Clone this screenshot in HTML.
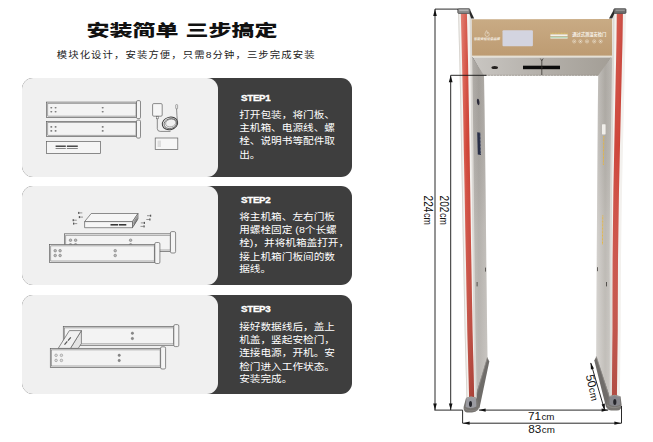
<!DOCTYPE html>
<html lang="zh-CN">
<head>
<meta charset="utf-8">
<title>安装简单 三步搞定</title>
<style>
html,body{margin:0;padding:0;background:#fff;}
body{width:653px;height:442px;position:relative;overflow:hidden;font-family:"Liberation Sans","Noto Sans CJK SC",sans-serif;}
#art{position:absolute;left:0;top:0;width:653px;height:442px;}
.title{position:absolute;left:0;top:13.7px;width:364px;text-align:center;font-size:16.3px;line-height:32px;font-weight:900;color:#111;white-space:nowrap;word-spacing:0.45px;transform:scaleX(1.412);transform-origin:50% 50%;font-family:"Liberation Sans","Noto Sans CJK SC",sans-serif;}
.sub{position:absolute;left:0;top:46px;width:372.4px;text-align:center;font-size:9px;line-height:18px;font-weight:400;color:#1c1c1c;white-space:nowrap;letter-spacing:0.96px;transform:scaleX(1.15);transform-origin:50% 50%;font-family:"Liberation Sans","Noto Sans CJK SC",sans-serif;}
.card{position:absolute;left:22.4px;width:330px;height:99.2px;border-radius:11px;background:#3e3e3e;}
.card .lt{position:absolute;left:0;top:0;width:196px;height:99.2px;border-radius:11px;background:#f0f0f0;}
.card h3{position:absolute;left:219.1px;top:14.4px;margin:0;font-size:9.1px;line-height:12px;font-weight:bold;color:#fff;letter-spacing:-0.25px;-webkit-text-stroke:0.35px #fff;transform:scaleX(1.07);transform-origin:0 50%;}
.card p{position:absolute;left:216.8px;top:30.5px;margin:0;font-size:10.65px;line-height:14.55px;transform:scaleY(0.9);transform-origin:0 0;color:#fff;white-space:nowrap;font-family:"Liberation Sans","Noto Sans CJK SC",sans-serif;}
#c1{top:77.5px}#c2{top:185.8px}#c3{top:295.2px}
#c2 h3{top:8px}#c2 p{top:24.2px}#c3 h3{top:7.95px}#c3 p{top:24.4px}
.dim{position:absolute;font-size:11px;line-height:11px;color:#111;white-space:nowrap;font-family:"Liberation Sans",sans-serif;}
</style>
</head>
<body>
<div class="title">安装简单 三步搞定</div>
<div class="sub">模块化设计，安装方便，只需8分钟，三步完成安装</div>

<div class="card" id="c1"><div class="lt"></div>
<h3>STEP1</h3>
<p>打开包装，将门板、<br>主机箱、电源线、螺<br>栓、说明书等配件取<br>出。</p></div>

<div class="card" id="c2"><div class="lt"></div>
<h3>STEP2</h3>
<p>将主机箱、左右门板<br>用螺栓固定 (8个长螺<br>栓)，并将机箱盖打开，<br>接上机箱门板间的数<br>据线。</p></div>

<div class="card" id="c3"><div class="lt"></div>
<h3>STEP3</h3>
<p>接好数据线后，盖上<br>机盖，竖起安检门，<br>连接电源，开机。安<br>检门进入工作状态。<br>安装完成。</p></div>

<svg id="art" width="653" height="442" viewBox="0 0 653 442">
<g id="step1" fill="none" stroke="#5e5e5e" stroke-width="0.7">
  <!-- panel 1 -->
  <rect x="46.5" y="102.1" width="90.3" height="15.3" fill="#f3f3f3"/>
  <rect x="47.8" y="103.4" width="88.2" height="12.7" stroke-width="0.5"/>
  <rect x="136.5" y="100.6" width="4" height="18" rx="1.3" fill="#f4f4f4"/>
  <g fill="#777" stroke="none"><ellipse cx="51.3" cy="107.7" rx="1.05" ry="0.8"/><ellipse cx="51.3" cy="111.8" rx="1.05" ry="0.8"/><ellipse cx="55.6" cy="107.7" rx="1.05" ry="0.8"/><ellipse cx="55.6" cy="111.8" rx="1.05" ry="0.8"/><ellipse cx="102.7" cy="107.7" rx="1.05" ry="0.8"/><ellipse cx="102.7" cy="111.8" rx="1.05" ry="0.8"/></g>
  <!-- panel 2 -->
  <rect x="46.5" y="121.4" width="90.3" height="15.1" fill="#f3f3f3"/>
  <rect x="47.8" y="122.7" width="88.2" height="12.5" stroke-width="0.5"/>
  <rect x="136.5" y="120.1" width="4" height="18" rx="1.3" fill="#f4f4f4"/>
  <g fill="#777" stroke="none"><ellipse cx="51.3" cy="126.9" rx="1.05" ry="0.8"/><ellipse cx="51.3" cy="130.9" rx="1.05" ry="0.8"/><ellipse cx="55.6" cy="126.9" rx="1.05" ry="0.8"/><ellipse cx="55.6" cy="130.9" rx="1.05" ry="0.8"/><ellipse cx="102.7" cy="126.9" rx="1.05" ry="0.8"/><ellipse cx="102.7" cy="130.9" rx="1.05" ry="0.8"/></g>
  <!-- main box -->
  <rect x="46.5" y="141.5" width="54.1" height="11.9" fill="#f5f5f5"/>
  <g stroke="#2e2e2e" stroke-width="1.3">
    <line x1="55.6" y1="146.2" x2="65.8" y2="146.2"/><line x1="66.9" y1="146.2" x2="77.8" y2="146.2"/>
  </g>
  <g stroke="#555" stroke-width="0.7">
    <line x1="55.6" y1="148.5" x2="65.8" y2="148.5"/><line x1="66.9" y1="148.5" x2="77.8" y2="148.5"/>
  </g>
  <!-- adapter + cable -->
  <rect x="152.6" y="103.6" width="9.6" height="12.6" rx="1.2" fill="#f6f6f6"/>
  <rect x="156.4" y="116.2" width="2" height="2.6" stroke-width="0.5"/>
  <path d="M157.3 118.8 V128.6 Q157.3 131.4 160.2 131.4 H170.5"/>
  <g transform="rotate(-14 170 123.4)">
  <ellipse cx="170" cy="123.4" rx="7.8" ry="6.2" stroke="#3c3c3c" stroke-width="1"/>
  <ellipse cx="170.3" cy="123.7" rx="6.4" ry="4.9" stroke="#4a4a4a" stroke-width="0.7"/>
  <ellipse cx="170.8" cy="123.2" rx="5.2" ry="3.8" stroke="#666" stroke-width="0.5"/>
  </g>
  <path d="M177.4 121.6 Q176.9 116 176.6 108.8"/>
  <rect x="175.7" y="104.6" width="1.9" height="4.2" rx="0.6" stroke-width="0.5"/>
  <!-- manual -->
  <rect x="155.2" y="138" width="22.6" height="11.6" fill="#f6f6f6"/>
  <rect x="157.6" y="140.6" width="3.4" height="6.4" fill="#ddd" stroke="none"/>
</g>

<g id="step2" class="s2" fill="none" stroke="#5e5e5e" stroke-width="0.7">
  <!-- back panel -->
  <rect x="64.4" y="233.8" width="106.4" height="17.6" fill="#f3f3f3"/>
  <rect x="65.8" y="235.2" width="104.4" height="14.8" stroke-width="0.5"/>
  <rect x="170.4" y="231.6" width="5.2" height="21.4" rx="1.4" fill="#f4f4f4"/>
  <g fill="#b9b9b9" stroke="#707070" stroke-width="0.55">
    <circle cx="70.5" cy="240.2" r="1.3"/><circle cx="75.6" cy="240.2" r="1.3"/><circle cx="130.6" cy="240.2" r="1.3"/><circle cx="70.5" cy="244.8" r="1.3"/><circle cx="75.6" cy="244.8" r="1.3"/><circle cx="130.6" cy="244.8" r="1.3"/>
  </g>
  <!-- front panel -->
  <rect x="49.4" y="244.5" width="105.4" height="17.9" fill="#f3f3f3"/>
  <rect x="50.8" y="245.9" width="103.4" height="15.1" stroke-width="0.5"/>
  <rect x="154.8" y="242.5" width="5.1" height="21" rx="1.4" fill="#f4f4f4"/>
  <g fill="#b9b9b9" stroke="#707070" stroke-width="0.55">
    <circle cx="55.2" cy="250.7" r="1.3"/><circle cx="60.1" cy="250.7" r="1.3"/>
    <circle cx="55.2" cy="255.5" r="1.3"/><circle cx="60.1" cy="255.5" r="1.3"/>
    <circle cx="115.2" cy="250.7" r="1.3"/><circle cx="115.2" cy="255.5" r="1.3"/>
  </g>
  <!-- main box 3d -->
  <path d="M84.6 221.6 L91.2 213.5 L138 213.5 L132.5 221.6 Z" fill="#f6f6f6"/>
  <path d="M84.6 221.6 H132.5 V227.7 H84.6 Z" fill="#f6f6f6"/>
  <path d="M132.5 221.6 L138 213.5 V218.8 L132.5 227.7 Z" fill="#cfcfcf"/>
  <g stroke="#2e2e2e" stroke-width="1.5"><line x1="110.5" y1="224.8" x2="118" y2="224.8"/><line x1="118.8" y1="224.8" x2="126.3" y2="224.8"/></g>
  <g stroke="#444" stroke-width="0.5">
    <path d="M133.4 222.6 L137.4 216.6 M133.4 224.2 L137.4 218.2 M133.4 225.8 L137.4 219.6"/>
  </g>
  <!-- screws -->
  <g stroke="#555" stroke-width="0.6">
<rect x="78.1" y="211.9" width="1.3" height="2" fill="#555" stroke="none"/><line x1="79.4" y1="212.9" x2="82.3" y2="212.9"/><rect x="78.8" y="216.1" width="1.3" height="2" fill="#555" stroke="none"/><line x1="80.1" y1="217.1" x2="83.0" y2="217.1"/><rect x="72.6" y="219.2" width="1.3" height="2" fill="#555" stroke="none"/><line x1="73.9" y1="220.2" x2="76.8" y2="220.2"/><rect x="73.0" y="222.6" width="1.3" height="2" fill="#555" stroke="none"/><line x1="74.3" y1="223.6" x2="77.2" y2="223.6"/><rect x="149.9" y="214.7" width="1.3" height="2" fill="#555" stroke="none"/><line x1="147.0" y1="215.7" x2="149.9" y2="215.7"/><rect x="149.2" y="218.5" width="1.3" height="2" fill="#555" stroke="none"/><line x1="146.3" y1="219.5" x2="149.2" y2="219.5"/><rect x="143.7" y="221.9" width="1.3" height="2" fill="#555" stroke="none"/><line x1="140.8" y1="222.9" x2="143.7" y2="222.9"/><rect x="143.4" y="225.4" width="1.3" height="2" fill="#555" stroke="none"/><line x1="140.5" y1="226.4" x2="143.4" y2="226.4"/>
  </g>
</g>

<g id="step3" fill="none" stroke="#5e5e5e" stroke-width="0.7">
  <!-- back panel -->
  <rect x="63.3" y="326.5" width="110.8" height="18.8" fill="#f3f3f3"/>
  <rect x="64.7" y="327.9" width="108.6" height="16" stroke-width="0.5"/>
  <rect x="173.8" y="324.6" width="5" height="22" rx="1.4" fill="#f4f4f4"/>
  <g fill="#8a8a8a" stroke="#666" stroke-width="0.4"><circle cx="132.4" cy="333.2" r="1.2"/><circle cx="132.4" cy="338.5" r="1.2"/></g>
  <!-- connector box -->
  <path d="M81.4 330.6 V343.5 L78.2 348.4 H70.4 Z" fill="#e4e4e4"/>
  <path d="M58.2 348.4 L69.4 330.6 L81.4 330.6 L70.4 348.4 Z" fill="#f1f1f1"/>
  <g stroke="#555" stroke-width="1.2"><path d="M64.5 344.7 L67.3 341.4 M68 340.6 L70.8 337.4"/></g>
  <!-- front panel -->
  <rect x="50.3" y="348.5" width="110.6" height="18.9" fill="#f3f3f3"/>
  <rect x="51.7" y="349.9" width="108.4" height="16.1" stroke-width="0.5"/>
  <rect x="160.6" y="346.8" width="5" height="22.2" rx="1.4" fill="#f4f4f4"/>
  <g fill="#dcdcdc" stroke="#808080" stroke-width="0.5">
    <circle cx="56.1" cy="355.3" r="1.3"/><circle cx="61.4" cy="355.3" r="1.3"/>
    <circle cx="56.1" cy="360.4" r="1.3"/><circle cx="61.4" cy="360.4" r="1.3"/>
  </g>
  <g fill="#8a8a8a" stroke="#666" stroke-width="0.4"><circle cx="119.2" cy="355.3" r="1.2"/><circle cx="119.2" cy="360.5" r="1.2"/></g>
</g>

<defs>
<linearGradient id="gRedL" x1="0" x2="1" y1="0" y2="0"><stop offset="0" stop-color="#df7264"/><stop offset="0.45" stop-color="#d1483a"/><stop offset="1" stop-color="#c0362a"/></linearGradient>
<linearGradient id="gRedR" x1="0" x2="1" y1="0" y2="0"><stop offset="0" stop-color="#cb4a40"/><stop offset="0.6" stop-color="#cf463a"/><stop offset="1" stop-color="#c2382e"/></linearGradient>
<linearGradient id="gRedV" x1="0" x2="0" y1="0" y2="1"><stop offset="0" stop-color="#fff" stop-opacity="0.10"/><stop offset="0.35" stop-color="#fff" stop-opacity="0"/><stop offset="1" stop-color="#7a5550" stop-opacity="0.34"/></linearGradient>
<linearGradient id="gSideL" x1="0" x2="1" y1="0" y2="0"><stop offset="0" stop-color="#bdb9b4"/><stop offset="0.5" stop-color="#aaa6a1"/><stop offset="1" stop-color="#bcb8b3"/></linearGradient>
<linearGradient id="gSideR" x1="0" x2="1" y1="0" y2="0"><stop offset="0" stop-color="#cfccc8"/><stop offset="0.5" stop-color="#b4b0aa"/><stop offset="1" stop-color="#c6c3be"/></linearGradient>
<linearGradient id="gUnder" x1="0" x2="1" y1="0" y2="0"><stop offset="0" stop-color="#c9c6c2"/><stop offset="0.5" stop-color="#b4b0aa"/><stop offset="1" stop-color="#a39e96"/></linearGradient>
<linearGradient id="gTan" x1="0" x2="0" y1="0" y2="1"><stop offset="0" stop-color="#c9ab84"/><stop offset="1" stop-color="#bd9b72"/></linearGradient>
<linearGradient id="gSideV" x1="0" x2="0" y1="0" y2="1"><stop offset="0" stop-color="#000" stop-opacity="0.04"/><stop offset="0.5" stop-color="#fff" stop-opacity="0.12"/><stop offset="1" stop-color="#fff" stop-opacity="0.20"/></linearGradient>
</defs>
<g id="gate">
<polygon points="471.4,19.3 612.2,18.9 612.2,56 471.6,56" fill="url(#gTan)"/>
<rect x="471.6" y="55.6" width="140.6" height="1.8" fill="#e6e0d4"/>
<polygon points="472.2,57.4 611.2,57.4 600.4,75.4 482,75.4" fill="url(#gUnder)"/>
<line x1="482" y1="75.3" x2="600.4" y2="75.3" stroke="#857f76" stroke-width="0.6" stroke-dasharray="2.4 0.6"/>
<line x1="472.4" y1="57.4" x2="481.8" y2="74.4" stroke="#4a4642" stroke-width="0.8"/>
<line x1="611" y1="57.4" x2="600.6" y2="74.6" stroke="#8a857d" stroke-width="0.5"/>
<ellipse cx="494.7" cy="67.5" rx="3.3" ry="1.6" fill="#24211f"/>
<rect x="523" y="65.7" width="37" height="3.5" fill="#0c0c0c"/>
<path d="M541.8 60 V75 M540.4 58.6 L541.8 60.6 L543.2 58.6" stroke="#2a2724" stroke-width="0.7" fill="none"/>
<circle cx="541.8" cy="67.5" r="1" fill="#2a2724"/>
<rect x="502.5" y="30.3" width="30.4" height="15.9" rx="1" fill="#d3d4e0"/>
<path d="M486.6 30.6 c-0.9 1.3 -1.6 2.4 -1.6 3.8 a2.1 2.1 0 0 0 4.2 0 c0 -1 -0.6 -1.8 -1.2 -2.2 c0.1 0.8 -0.4 1.3 -0.9 1.3 c0.3 -1 0.1 -2 -0.5 -2.9z" fill="none" stroke="#f3ece0" stroke-width="0.5"/>
<text x="473.8" y="40.1" font-size="3.2" font-weight="bold" font-style="italic" fill="#f6f1e8" textLength="26" lengthAdjust="spacingAndGlyphs" font-family="'Liberation Sans','Noto Sans CJK SC',sans-serif">智能安检设备品牌</text>
<line x1="550.4" y1="33.3" x2="567.6" y2="33.3" stroke="#e6d35a" stroke-width="0.7" stroke-dasharray="1 0.5"/>
<rect x="550.4" y="34.4" width="17.2" height="1.7" fill="#f4f2ea"/>
<rect x="550.4" y="36.8" width="17.2" height="1.8" fill="#e9efe4"/>
<rect x="550.4" y="36.8" width="17.2" height="0.7" fill="#8fc79a"/>
<text x="572.2" y="35.7" font-size="4.3" font-weight="bold" fill="#f6f1e8" textLength="34" lengthAdjust="spacingAndGlyphs" font-family="'Liberation Sans','Noto Sans CJK SC',sans-serif">通过式测温安检门</text>
<circle cx="574.2" cy="41.4" r="1.6" fill="none" stroke="#f1eadd" stroke-width="0.5"/>
<circle cx="574.2" cy="41.4" r="0.6" fill="#f1eadd"/>
<circle cx="580.4" cy="41.4" r="1.6" fill="none" stroke="#f1eadd" stroke-width="0.5"/>
<circle cx="580.4" cy="41.4" r="0.6" fill="#f1eadd"/>
<circle cx="587" cy="41.4" r="1.6" fill="none" stroke="#f1eadd" stroke-width="0.5"/>
<circle cx="587" cy="41.4" r="0.6" fill="#f1eadd"/>
<circle cx="594.2" cy="41.4" r="1.6" fill="none" stroke="#f1eadd" stroke-width="0.5"/>
<circle cx="594.2" cy="41.4" r="0.6" fill="#f1eadd"/>
<circle cx="600.6" cy="41.4" r="1.6" fill="none" stroke="#f1eadd" stroke-width="0.5"/>
<circle cx="600.6" cy="41.4" r="0.6" fill="#f1eadd"/>
<polygon points="470.3,57.4 470.5,75.4 471.0,110.0 471.9,190.0 472.7,260.0 473.5,330.0 474.1,358.0 474.8,398.0 475.6,398.0 487.5,358.0 487.1,330.0 486.3,260.0 485.6,190.0 484.6,110.0 484.0,75.4 472.6,57.4" fill="url(#gSideL)"/>
<polygon points="470.3,57.4 470.5,75.4 471.0,110.0 471.9,190.0 472.7,260.0 473.5,330.0 474.1,358.0 474.8,398.0 475.6,398.0 487.5,358.0 487.1,330.0 486.3,260.0 485.6,190.0 484.6,110.0 484.0,75.4 472.6,57.4" fill="url(#gSideV)"/>
<path d="M487.4 357.5 L489.3 361.5 L479.4 408.6 L474.6 399 Z" fill="#6f6c69"/>
<path d="M487.4 357.5 L475.4 398.5" stroke="#8f8c88" stroke-width="0.8" fill="none"/>
<polygon points="458.1,13.5 458.8,40.0 459.3,60.0 459.7,77.0 460.4,110.0 461.1,150.0 461.9,190.0 462.6,230.0 463.2,260.0 464.0,300.0 464.6,330.0 465.4,360.0 466.0,380.0 466.4,398.0 475.1,398.0 474.8,380.0 474.4,360.0 473.8,330.0 473.4,300.0 472.9,260.0 472.6,230.0 472.2,190.0 471.8,150.0 471.3,110.0 470.9,77.0 470.6,60.0 470.3,40.0 469.8,13.5" fill="#f3f1ee"/>
<polygon points="469.5,13.5 470.0,40.0 470.3,60.0 470.6,77.0 471.0,110.0 471.5,150.0 471.9,190.0 472.3,230.0 472.7,260.0 473.1,300.0 473.5,330.0 474.1,360.0 474.5,380.0 474.8,398.0 476.7,398.0 476.4,380.0 476.0,360.0 475.4,330.0 475.0,300.0 474.6,260.0 474.2,230.0 473.8,190.0 473.4,150.0 472.9,110.0 472.5,77.0 472.2,60.0 471.9,40.0 471.4,13.5" fill="#dcd9d5"/>
<polygon points="458.1,13.5 458.8,40.0 459.3,60.0 459.7,77.0 460.4,110.0 461.1,150.0 461.9,190.0 462.6,230.0 463.2,260.0 464.0,300.0 464.6,330.0 465.4,360.0 466.0,380.0 466.4,398.0 467.4,398.0 467.0,380.0 466.4,360.0 465.6,330.0 465.0,300.0 464.2,260.0 463.6,230.0 462.9,190.0 462.1,150.0 461.4,110.0 460.7,77.0 460.3,60.0 459.8,40.0 459.1,13.5" fill="#d9d5d0"/>
<polygon points="460.8,13.5 461.5,40.0 462.0,60.0 462.4,77.0 463.1,110.0 463.8,150.0 464.6,190.0 465.3,230.0 465.9,260.0 466.7,300.0 467.3,330.0 468.1,360.0 468.7,380.0 469.1,398.0 474.2,398.0 473.8,380.0 473.3,360.0 472.5,330.0 472.0,300.0 471.3,260.0 470.8,230.0 470.2,190.0 469.6,150.0 468.9,110.0 468.3,77.0 468.0,60.0 467.5,40.0 466.9,13.5" fill="url(#gRedL)"/>
<polygon points="460.8,13.5 461.5,40.0 462.0,60.0 462.4,77.0 463.1,110.0 463.8,150.0 464.6,190.0 465.3,230.0 465.9,260.0 466.7,300.0 467.3,330.0 468.1,360.0 468.7,380.0 469.1,398.0 474.2,398.0 473.8,380.0 473.3,360.0 472.5,330.0 472.0,300.0 471.3,260.0 470.8,230.0 470.2,190.0 469.6,150.0 468.9,110.0 468.3,77.0 468.0,60.0 467.5,40.0 466.9,13.5" fill="url(#gRedV)"/>
<polygon points="469.6,9 474.2,18.6 471.2,18.6 469.4,13.4" fill="#2b2b2b"/>
<rect x="457.8" y="8.7" width="12" height="4.7" rx="0.8" fill="#8d8d8d" stroke="#3a3a3a" stroke-width="0.7"/>
<rect x="459.2" y="9.6" width="9.2" height="1.2" fill="#bdbdbd"/>
<path d="M466 398 Q470.8 394.8 477 398 L479.2 405 Q479.6 412.2 472 412.4 L467 412.4 Q463.2 412 463.6 407 Z" fill="#777471"/>
<path d="M466.4 398.6 Q471 396 476 398.6 L476.4 406.4 Q471 409.6 465.6 407 Z" fill="#9b9ba1"/>
<path d="M466.2 398.4 Q470.8 395.4 476.6 398.4" stroke="#b5b3b0" stroke-width="0.7" fill="none"/>
<path d="M464.4 408.4 Q470 412.6 478.4 409.4" stroke="#8e8c89" stroke-width="0.6" fill="none"/>
<ellipse cx="470.5" cy="404" rx="1.5" ry="3" fill="#25252b"/>
<ellipse cx="478.2" cy="102" rx="1.25" ry="3.2" fill="#2b2a38" transform="rotate(-6 477.8 102.2)"/>
<polygon points="477.2,132.2 480.4,132.8 481,155 477.8,154.4" fill="#2a3048"/>
<line x1="480.2" y1="133.4" x2="480.7" y2="154.4" stroke="#c9cbd6" stroke-width="0.5" stroke-dasharray="0.7 0.7"/>
<rect x="485" y="267.6" width="0.9" height="4" fill="#55524e"/>
<rect x="476.6" y="282" width="1" height="4.4" fill="#55524e"/>
<polygon points="611.0,57.4 598.2,75.4 597.8,110.0 597.2,190.0 596.7,260.0 596.3,330.0 596.2,357.0 609.0,396.5 611.5,396.5 611.7,357.0 611.8,330.0 611.5,260.0 612.0,190.0 613.2,110.0 613.8,75.4 614.1,57.4" fill="url(#gSideR)"/>
<polygon points="611.0,57.4 598.2,75.4 597.8,110.0 597.2,190.0 596.7,260.0 596.3,330.0 596.2,357.0 609.0,396.5 611.5,396.5 611.7,357.0 611.8,330.0 611.5,260.0 612.0,190.0 613.2,110.0 613.8,75.4 614.1,57.4" fill="url(#gSideV)"/>
<path d="M596.3 356.5 L594.3 360.5 L606.3 408.2 L610 397.5 Z" fill="#6f6c69"/>
<path d="M596.3 356.5 L609.2 396.8" stroke="#8f8c88" stroke-width="0.8" fill="none"/>
<polygon points="614.3,13.5 614.0,40.0 613.7,60.0 613.4,77.0 612.9,110.0 612.3,150.0 611.7,190.0 611.4,230.0 611.2,260.0 611.4,300.0 611.5,330.0 611.4,360.0 611.3,380.0 611.2,396.5 619.9,396.5 620.1,380.0 620.3,360.0 620.7,330.0 620.8,300.0 621.0,260.0 621.4,230.0 622.0,190.0 622.9,150.0 623.8,110.0 624.6,77.0 625.0,60.0 625.5,40.0 625.9,13.5" fill="#f3f1ee"/>
<polygon points="612.7,13.5 612.4,40.0 612.1,60.0 611.8,77.0 611.3,110.0 610.7,150.0 610.1,190.0 609.8,230.0 609.6,260.0 609.8,300.0 609.9,330.0 609.8,360.0 609.7,380.0 609.6,396.5 611.5,396.5 611.6,380.0 611.7,360.0 611.8,330.0 611.7,300.0 611.5,260.0 611.7,230.0 612.0,190.0 612.6,150.0 613.2,110.0 613.7,77.0 614.0,60.0 614.3,40.0 614.6,13.5" fill="#dcd9d5"/>
<polygon points="616.8,13.5 616.5,40.0 616.1,60.0 615.7,77.0 615.0,110.0 614.2,150.0 613.4,190.0 612.9,230.0 612.6,260.0 612.5,300.0 612.5,330.0 612.2,360.0 612.0,380.0 611.9,396.5 616.9,396.5 617.1,380.0 617.3,360.0 617.7,330.0 617.8,300.0 618.0,260.0 618.4,230.0 619.0,190.0 619.9,150.0 620.8,110.0 621.6,77.0 622.0,60.0 622.5,40.0 622.9,13.5" fill="url(#gRedR)"/>
<polygon points="616.8,13.5 616.5,40.0 616.1,60.0 615.7,77.0 615.0,110.0 614.2,150.0 613.4,190.0 612.9,230.0 612.6,260.0 612.5,300.0 612.5,330.0 612.2,360.0 612.0,380.0 611.9,396.5 616.9,396.5 617.1,380.0 617.3,360.0 617.7,330.0 617.8,300.0 618.0,260.0 618.4,230.0 619.0,190.0 619.9,150.0 620.8,110.0 621.6,77.0 622.0,60.0 622.5,40.0 622.9,13.5" fill="url(#gRedV)"/>
<polygon points="614.2,9 609,18.4 612.2,18.4 614.4,13.4" fill="#2b2b2b"/>
<rect x="613.9" y="8.7" width="12.1" height="4.7" rx="0.8" fill="#6f6f6f" stroke="#3a3a3a" stroke-width="0.7"/>
<rect x="615.6" y="9.6" width="9.2" height="1.2" fill="#9a9a9a"/>
<path d="M608.6 396.6 Q614.4 393.4 620.6 396.6 L621.6 405 Q621.8 410.4 617 410.6 L611 410.6 Q606.2 410.2 606.4 404 Z" fill="#777471"/>
<path d="M609.6 396.8 Q614.6 394.6 619.8 396.8 L620.4 404.6 Q615 408 609.4 404.6 Z" fill="#85858b"/>
<path d="M608.8 396.8 Q614.4 393.8 620.2 396.8" stroke="#a9a7a4" stroke-width="0.7" fill="none"/>
<path d="M607 405 Q612 409.6 620.6 406.4" stroke="#9a9895" stroke-width="0.6" fill="none"/>
<ellipse cx="614.8" cy="402" rx="1.6" ry="3" fill="#25252b"/>
<rect x="602" y="124.2" width="3.6" height="10.2" rx="0.6" fill="#f1efeb"/>
<line x1="603.8" y1="136" x2="603.4" y2="165" stroke="#e8b53a" stroke-width="1" stroke-dasharray="0.9 0.5"/>
<line x1="602.8" y1="215.4" x2="602.5" y2="244.4" stroke="#e8b53a" stroke-width="1" stroke-dasharray="0.9 0.5"/>
<rect x="597" y="267.2" width="0.9" height="4" fill="#55524e"/>
<rect x="606" y="282" width="1" height="4.4" fill="#55524e"/>
</g>
<g id="dims" stroke="#111" stroke-width="0.9" fill="#111">
<path d="M435 410.1 V9.1 H458" fill="none"/>
<polygon points="435,9.1 433.2,15.9 436.8,15.9" stroke="none"/>
<polygon points="435,410 433.2,403.4 436.8,403.4" stroke="none"/>
<path d="M450.7 410.1 V75.3 H486.4" fill="none"/>
<polygon points="450.7,75.6 448.8,82.3 452.6,82.3" stroke="none"/>
<polygon points="450.7,410 448.9,403.4 452.5,403.4" stroke="none"/>
<path d="M434.4 410.1 H462.6 V423.2 H621.5 V406" fill="none"/>
<polygon points="463,423.2 469.6,421.6 469.6,424.8" stroke="none"/>
<polygon points="621,423.2 614.4,421.6 614.4,424.8" stroke="none"/>
<path d="M479 410.1 H608.2" fill="none"/>
<polygon points="479,410.1 485.6,408.5 485.6,411.7" stroke="none"/>
<polygon points="608.2,410.1 601.6,408.5 601.6,411.7" stroke="none"/>
<path d="M590.8 363 L604.6 410" fill="none"/>
<polygon points="590.6,362.4 590.9,369.4 594,368.4" stroke="none"/>
<polygon points="604.8,410.4 601.6,404.4 604.8,403.4" stroke="none"/>
</g>
<g fill="#111" font-size="11.7" font-family="'Liberation Sans',sans-serif">
<text x="541.2" y="420.1" text-anchor="middle">71<tspan font-size="9.8" dx="0.5">cm</tspan></text>
<text x="541.6" y="433.3" text-anchor="middle">83<tspan font-size="9.8" dx="0.5">cm</tspan></text>
<g transform="translate(423.9 195.6) rotate(90)"><text font-size="12.2" textLength="16.7" lengthAdjust="spacingAndGlyphs">224</text><text x="17.4" font-size="11.3" textLength="11.9" lengthAdjust="spacingAndGlyphs">cm</text></g>
<g transform="translate(439.7 195.6) rotate(90)"><text font-size="12.2" textLength="16.7" lengthAdjust="spacingAndGlyphs">202</text><text x="17.4" font-size="11.3" textLength="11.9" lengthAdjust="spacingAndGlyphs">cm</text></g>
<text transform="translate(588.6 388.4) rotate(77.5)" text-anchor="middle">50<tspan font-size="9.8" dx="0.5">cm</tspan></text>
</g>
</svg>

</body>
</html>
